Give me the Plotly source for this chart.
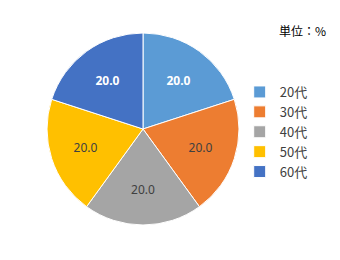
import plotly.graph_objects as go

labels = ["20代", "30代", "40代", "50代", "60代"]
values = [20.0, 20.0, 20.0, 20.0, 20.0]
colors = ["#5B9BD5", "#ED7D31", "#A5A5A5", "#FFC000", "#4472C4"]
text_colors = ["#FFFFFF", "#404040", "#404040", "#404040", "#FFFFFF"]
templates = ["<b>%{value:.1f}</b>", "%{value:.1f}", "%{value:.1f}", "%{value:.1f}", "<b>%{value:.1f}</b>"]
unit_label = "単位：%"

W, H = 340, 260
cx, cy, r = 143, 129, 96

fig = go.Figure(go.Pie(
    labels=labels,
    values=values,
    sort=False,
    direction="clockwise",
    rotation=0,
    marker=dict(colors=colors, line=dict(color="#FFFFFF", width=1)),
    texttemplate=templates,
    textposition="inside",
    insidetextorientation="horizontal",
    textfont=dict(color=text_colors, size=12, family="Noto Sans"),
    hoverinfo="label+value",
    domain=dict(x=[(cx - r) / W, (cx + r) / W], y=[1 - (cy + r) / H, 1 - (cy - r) / H]),
))

fig.update_layout(
    width=W, height=H,
    margin=dict(l=0, r=0, t=0, b=0),
    paper_bgcolor="#FFFFFF",
    plot_bgcolor="#FFFFFF",
    showlegend=True,
    legend=dict(
        x=0.705, y=1 - 132 / H, xanchor="left", yanchor="middle",
        font=dict(family="Noto Sans CJK JP", size=13, color="#404040"),
        itemwidth=30, tracegroupgap=0,
    ),
    annotations=[dict(
        text=unit_label, x=328 / W, y=1 - 30 / H, xref="paper", yref="paper",
        xanchor="right", yanchor="middle", showarrow=False,
        font=dict(family="Noto Sans CJK JP", size=12, color="#000000"),
    )],
)

fig.write_html("out.html")
